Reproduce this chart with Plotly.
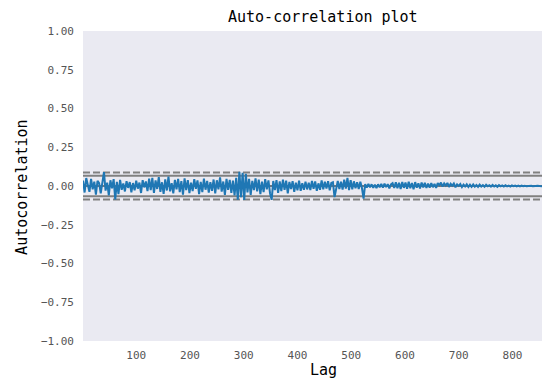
import plotly.graph_objects as go

# ---- data ----
lag_start, lag_stop, lag_step = 1, 857, 3
n_obs = 890  # number of observations (sets the confidence bands)

acf_c0 = [0.035, -0.042, 0.051, 0.012, -0.038, 0.046, -0.021, 0.028, -0.055, 0.033,
          0.018, -0.047, 0.041, 0.089, -0.030, 0.022, -0.061, 0.037, -0.015, 0.044]
acf_c1 = [-0.086, 0.027, -0.052, 0.039, -0.024, 0.016, -0.035, 0.031, -0.012, 0.025,
          -0.041, 0.019, -0.028, 0.034, -0.017, 0.022, -0.045, 0.038, -0.009, 0.029]
acf_c2 = [-0.033, 0.048, -0.026, 0.052, -0.044, 0.036, -0.019, 0.057, -0.038, 0.024,
          -0.051, 0.043, -0.029, 0.061, -0.035, 0.018, -0.047, 0.039, -0.022, 0.046]
acf_c3 = [-0.040, 0.031, -0.055, 0.049, -0.027, 0.038, -0.046, 0.021, -0.033, 0.044,
          -0.018, 0.036, -0.052, 0.027, -0.039, 0.048, -0.024, 0.033, -0.043, 0.025]
acf_c4 = [-0.031, 0.042, -0.048, 0.037, -0.022, 0.055, -0.036, 0.029, -0.057, 0.046,
          -0.025, 0.039, -0.044, 0.034, -0.061, 0.052, -0.088, 0.091, -0.072, 0.085]
acf_c5 = [-0.090, 0.078, -0.041, 0.046, -0.058, 0.033, -0.027, 0.049, -0.035, 0.041,
          -0.052, 0.028, -0.039, 0.044, -0.021, 0.036, -0.048, -0.089, 0.032, -0.026]
acf_c6 = [0.038, -0.044, 0.029, -0.033, 0.041, -0.025, 0.034, -0.047, 0.026, -0.019,
          0.031, -0.037, 0.022, -0.028, 0.035, -0.031, 0.018, -0.024, 0.027, -0.022]
acf_c7 = [0.021, -0.026, 0.033, -0.018, 0.029, -0.031, 0.017, -0.024, 0.036, -0.022,
          0.027, -0.016, 0.031, -0.028, 0.019, 0.024, -0.072, -0.021, 0.032, -0.019]
acf_c8 = [0.028, -0.023, 0.041, -0.017, 0.052, -0.026, 0.038, -0.021, 0.030, -0.015,
          0.024, -0.019, 0.027, -0.013, -0.082, 0.012, -0.010, 0.014, -0.009, 0.011]
acf_c9 = [-0.012, 0.009, -0.014, 0.011, -0.008, 0.013, -0.010, 0.015, -0.007, 0.012,
          -0.016, 0.010, 0.018, -0.013, 0.024, -0.015, 0.021, -0.019, 0.026, -0.012]
acf_c10 = [0.022, -0.018, 0.027, -0.014, 0.019, -0.021, 0.025, -0.011, 0.017, -0.016,
           0.023, -0.009, 0.020, -0.013, 0.016, -0.010, 0.018, -0.008, 0.014, -0.012]
acf_c11 = [0.019, 0.006, 0.022, -0.004, 0.017, 0.003, 0.020, -0.006, 0.014, 0.002,
           0.016, -0.008, 0.011, 0.001, 0.013, -0.007, 0.009, -0.003, 0.011, -0.006]
acf_c12 = [0.008, -0.005, 0.010, -0.004, 0.007, -0.006, 0.009, -0.003, 0.006, -0.005,
           0.008, -0.002, 0.005, -0.004, 0.007, -0.003, 0.004, -0.005, 0.006, -0.002]
acf_c13 = [0.004, -0.003, 0.005, -0.002, 0.003, -0.004, 0.004, -0.001, 0.003, -0.003,
           0.002, -0.002, 0.003, -0.001, 0.002, -0.002, 0.001, -0.001, 0.002, -0.001]
acf_c14 = [0.001, -0.001, 0.001, 0.000, 0.001, -0.001]

y_tick_vals = [-1.0, -0.75, -0.5, -0.25, 0.0, 0.25, 0.5, 0.75, 1.0]
y_tick_text = ["−1.00", "−0.75", "−0.50", "−0.25", "0.00", "0.25", "0.50", "0.75", "1.00"]
x_tick_vals = [100, 200, 300, 400, 500, 600, 700, 800]

title_text = "Auto-correlation plot"
x_label = "Lag"
y_label = "Autocorrelation"

# ---- build ----
acf = (acf_c0 + acf_c1 + acf_c2 + acf_c3 + acf_c4 + acf_c5 + acf_c6 + acf_c7 +
       acf_c8 + acf_c9 + acf_c10 + acf_c11 + acf_c12 + acf_c13 + acf_c14)
lags = list(range(lag_start, lag_stop, lag_step))[:len(acf)]

z95 = 1.959963984540054
z99 = 2.5758293035489
b95 = z95 / n_obs ** 0.5
b99 = z99 / n_obs ** 0.5

FONT = "DejaVu Sans Mono"

fig = go.Figure()
fig.add_trace(go.Scatter(x=lags, y=acf, mode="lines",
                         line=dict(color="#1f77b4", width=2), showlegend=False))

def hline(y, color, dash, width):
    fig.add_shape(type="line", xref="paper", x0=0, x1=1, yref="y", y0=y, y1=y,
                  line=dict(color=color, dash=dash, width=width), layer="below")

hline(b99, "grey", "7px,3px", 2)
hline(b95, "grey", "solid", 2)
hline(0, "black", "solid", 1)
hline(-b95, "grey", "solid", 2)
hline(-b99, "grey", "7px,3px", 2)

fig.update_layout(
    width=542, height=380,
    margin=dict(l=83, r=0, t=31, b=39),
    paper_bgcolor="white", plot_bgcolor="#EAEAF2",
    font=dict(family=FONT, size=11, color="#333333"),
    showlegend=False,
)
fig.update_xaxes(range=[1, 855], tickvals=x_tick_vals, showgrid=False, zeroline=False,
                 showline=False, ticks="", ticklabelstandoff=6,
                 tickfont=dict(family=FONT, size=11, color="#555555"))
fig.update_yaxes(range=[-1, 1], tickvals=y_tick_vals, ticktext=y_tick_text,
                 showgrid=False, zeroline=False, showline=False, ticks="",
                 ticklabelstandoff=8,
                 tickfont=dict(family=FONT, size=11, color="#555555"))

fig.add_annotation(text=title_text, xref="paper", yref="paper", x=0.5229, y=1.045,
                   xanchor="center", yanchor="middle", showarrow=False,
                   font=dict(family=FONT, size=15, color="black"))
fig.add_annotation(text=x_label, xref="paper", yref="paper", x=0.5229, y=-0.093,
                   xanchor="center", yanchor="middle", showarrow=False,
                   font=dict(family=FONT, size=15, color="black"))
fig.add_annotation(text=y_label, xref="paper", yref="paper", x=-0.133, y=0.497,
                   xanchor="center", yanchor="middle", showarrow=False, textangle=-90,
                   font=dict(family=FONT, size=15, color="black"))

fig.write_html("out.html")
